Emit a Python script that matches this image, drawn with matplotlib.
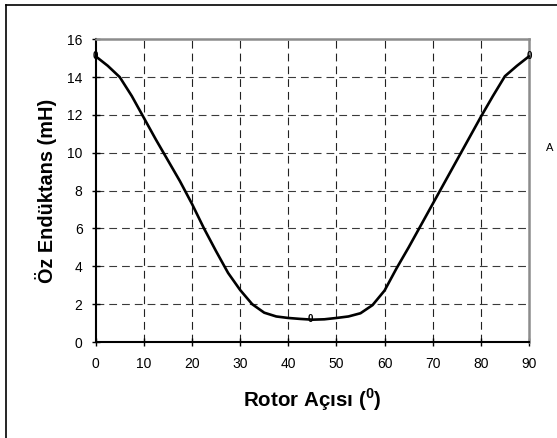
import matplotlib
matplotlib.use("Agg")
import matplotlib.pyplot as plt
from matplotlib.lines import Line2D

plt.rcParams['font.family'] = ['Liberation Sans', 'DejaVu Sans']
plt.rcParams['mathtext.fontset'] = 'custom'
plt.rcParams['mathtext.rm'] = 'Liberation Sans'
plt.rcParams['mathtext.bf'] = 'Liberation Sans:bold'

# Data
rotor_angle = [0, 2.5, 5, 7.5, 10, 12.5, 15, 17.5, 20, 22.5, 25, 27.5, 30, 32.5, 35,
               37.5, 40, 42.5, 45, 47.5, 50, 52.5, 55, 57.5, 60, 62.5, 65, 67.5, 70,
               72.5, 75, 77.5, 80, 82.5, 85, 87.5, 90]
inductance = [15.1, 14.6, 14.0, 13.0, 11.85, 10.7, 9.6, 8.5, 7.3, 6.0, 4.8, 3.65, 2.75,
              2.0, 1.55, 1.35, 1.27, 1.22, 1.18, 1.2, 1.27, 1.35, 1.52, 1.95, 2.72,
              3.9, 5.0, 6.15, 7.3, 8.45, 9.6, 10.75, 11.9, 13.0, 14.05, 14.6, 15.1]
label_angles = [0, 44.5, 90]
label_values = [15.1, 1.2, 15.1]
label_texts = ['0', '0', '0']

x_ticks = [0, 10, 20, 30, 40, 50, 60, 70, 80, 90]
y_ticks = [0, 2, 4, 6, 8, 10, 12, 14, 16]

W, H = 557, 438
fig = plt.figure(figsize=(W / 100, H / 100), dpi=100)
ax = fig.add_axes([95.7 / W, 1 - 342 / H, (529 - 95.7) / W, (342 - 39.3) / H])

ax.plot(rotor_angle, inductance, color='black', lw=1.9, solid_capstyle='round',
        solid_joinstyle='round', zorder=5, clip_on=False)
for a, v, t in zip(label_angles, label_values, label_texts):
    ax.text(a, v, t, fontsize=7, fontweight='bold', ha='center', va='center', zorder=6)

ax.set_xlim(0, 90)
ax.set_ylim(0, 16)
ax.set_xticks(x_ticks)
ax.set_yticks(y_ticks)

for yv in y_ticks[1:-1]:
    ax.axhline(yv, color='#3a3a3a', lw=0.8, dashes=(7, 4.5), zorder=1)
for xv in x_ticks[1:-1]:
    ax.axvline(xv, color='#222222', lw=0.8, dashes=(7, 4.5), zorder=1)

for s in ['left', 'bottom']:
    ax.spines[s].set_color('black')
    ax.spines[s].set_linewidth(1.5)
for s in ['top', 'right']:
    ax.spines[s].set_color('#8c8c8c')
    ax.spines[s].set_linewidth(1.8)

ax.tick_params(axis='both', direction='inout', length=6, width=1, colors='black',
               labelsize=10)
ax.tick_params(axis='y', pad=6.5)
ax.tick_params(axis='x', pad=8)

fig.text(46 / W, 1 - 190.7 / H, 'Öz Endüktans (mH)', rotation=90, fontsize=14.3,
         fontweight='bold', ha='center', va='center')
fig.text(312 / W, 1 - 400 / H, r'Rotor Açısı ($^{\mathbf{0}}$)', fontsize=14.8,
         fontweight='bold', ha='center', va='center')

# fragment of a neighbouring text at the right edge
fig.text(546 / W, 1 - 148 / H, 'A', fontsize=8, ha='left', va='center')

# outer chart frame (only left and top edges visible in the crop)
fig.add_artist(Line2D([6 / W, 6 / W], [0, 1 - 4.5 / H], transform=fig.transFigure,
                      color='black', lw=1.2))
fig.add_artist(Line2D([6 / W, 1], [1 - 4.5 / H, 1 - 4.5 / H], transform=fig.transFigure,
                      color='black', lw=1.2))

fig.savefig('out.png', dpi=100)
